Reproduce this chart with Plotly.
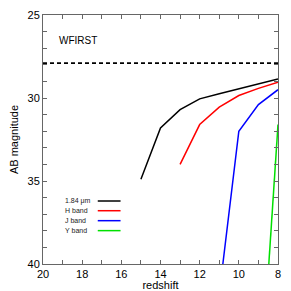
import plotly.graph_objects as go

# Data
z_184 = [15, 14, 13, 12, 11, 10, 9, 8]
m_184 = [34.9, 31.8, 30.7, 30.05, 29.75, 29.45, 29.18, 28.85]
z_H = [13, 12, 11, 10, 9, 8]
m_H = [34.0, 31.6, 30.55, 29.85, 29.42, 29.05]
z_J = [11, 10, 9, 8]
m_J = [41.8, 32.0, 30.4, 29.5]
z_Y = [9, 8]
m_Y = [49.5, 31.6]
limit_mag = 27.9

series = [
    ("1.84 \u03bcm", z_184, m_184, "black"),
    ("H band", z_H, m_H, "red"),
    ("J band", z_J, m_J, "blue"),
    ("Y band", z_Y, m_Y, "#00e000"),
]

fig = go.Figure()
for name, zx, my, col in series:
    fig.add_trace(go.Scatter(x=zx, y=my, mode="lines", line=dict(color=col, width=1.5),
                             name=name, showlegend=False, cliponaxis=True))

fig.add_shape(type="line", xref="paper", x0=0, x1=1, yref="y", y0=limit_mag, y1=limit_mag,
              line=dict(color="black", width=1.8, dash="4px,3px"))

# legend (text left, line right)
leg_y = [0.253, 0.214, 0.174, 0.134]
for (name, _, _, col), yy in zip(series, leg_y):
    fig.add_annotation(xref="paper", yref="paper", x=0.086, y=yy, text=name, showarrow=False,
                       xanchor="left", yanchor="middle", font=dict(size=7, color="#222"))
    fig.add_shape(type="line", xref="paper", yref="paper", x0=0.233, x1=0.330, y0=yy, y1=yy,
                  line=dict(color=col, width=1.5))

fig.add_annotation(xref="paper", yref="paper", x=0.06, y=0.898, text="WFIRST", showarrow=False,
                   xanchor="left", yanchor="middle", font=dict(size=10, color="black"))

axis_common = dict(ticks="inside", ticklen=4, tickcolor="#666", mirror="ticks",
                   showline=True, linecolor="#666", linewidth=1, showgrid=False, zeroline=False,
                   automargin=False,
                   tickfont=dict(size=11, color="black"),
                   minor=dict(ticks="inside", ticklen=4, dtick=1, tickcolor="#666", showgrid=False))

fig.update_xaxes(range=[20, 8], dtick=2, tick0=8, title=dict(text="redshift", font=dict(size=11), standoff=2),
                 **axis_common)
fig.update_yaxes(range=[40, 25], dtick=5, tick0=25, title=dict(text="AB magnitude", font=dict(size=11), standoff=6),
                 **axis_common)

fig.update_layout(width=291, height=291, margin=dict(l=43, r=13, t=15, b=27, autoexpand=False),
                  plot_bgcolor="white", paper_bgcolor="white",
                  font=dict(family="Liberation Sans, Arial, sans-serif", color="black"),
                  showlegend=False)

fig.write_html("out.html", config={"displayModeBar": False},
               post_script="document.body.style.margin='0';document.body.style.overflow='hidden';")
